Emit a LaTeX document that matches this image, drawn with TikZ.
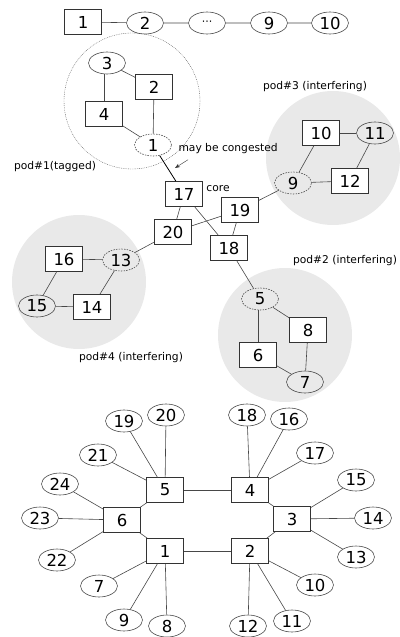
\documentclass[tikz,border=0pt]{standalone}
\usepackage{fontspec}
\setmainfont{DejaVu Sans}
\usetikzlibrary{shapes.geometric}
\usetikzlibrary{arrows.meta, positioning}
\definecolor{podGray}{RGB}{233, 233, 233}
\colorlet{edgeColor}{black!72}
\tikzset{
    switch/.style={draw=black!80, fill=white, rectangle, minimum width=37pt, minimum height=25pt, inner sep=0pt, line width=0.6pt, font=\fontsize{16.5}{16}\selectfont},
    host/.style={draw=black!70, ellipse, minimum width=37pt, minimum height=22pt, inner sep=0pt, line width=0.6pt, font=\fontsize{16.5}{16}\selectfont},
    entry/.style={host, dash pattern=on 1.5pt off 1.2pt},
    core/.style={switch, thick},
    link/.style={draw=edgeColor, line width=0.6pt},
    pod/.style={fill=podGray},
    podlabel/.style={font=\fontsize{10.7}{11}\selectfont}
}
\begin{document}
\begin{tikzpicture}[x=1pt, y=-1pt]
    \useasboundingbox (0,0) rectangle (399,637);

    % Draw the pod backgrounds
    \fill[pod] (333,158) circle (67);
    \fill[pod] (79,282) circle (67);
    \fill[pod] (285,335) circle (67);
    \draw[black!65, dash pattern=on 0.8pt off 1pt] (132,101) circle (68);

    % Top chain
    \node[switch] (t1) at (83,22) {1};
    \node[host] (t2) at (145,23) {2};
    \node[host] (tdots) at (207,23) {\fontsize{11}{11}\selectfont ···};
    \node[host] (t9) at (269,23) {9};
    \node[host] (t10) at (330,23) {10};
    \draw[link] (t1) -- (t2) -- (tdots) -- (t9) -- (t10);

    % pod#1
    \node[host] (a3) at (107,63) {3};
    \node[switch] (a2) at (154,87) {2};
    \node[switch] (a4) at (104,114) {4};
    \node[entry] (a1) at (153,145) {1};
    \draw[link] (a3) -- (a2);
    \draw[link] (a3.south -| a4.north) -- (a4.north);
    \draw[link] (a4) -- (a1);
    \draw[link] (a2) -- (a1);
    \node[podlabel] (lab1) at (55,167) {pod\#1(tagged)};

    % pod#3
    \node[switch] (c10) at (321,133) {10};
    \node[host] (c11) at (375,133) {11};
    \node[entry] (c9) at (293,183) {9};
    \node[switch] (c12) at (350,181) {12};
    \draw[link] (c10) -- (c11);
    \draw[link] (c10) -- (c9);
    \draw[link] (c11) -- (c12);
    \draw[link] (c9) -- (c12);
    \node[podlabel] (lab3) at (315,87) {pod\#3 (interfering)};

    % Core switches
    \node[core] (k17) at (184,194) {17};
    \node[core] (k19) at (240,210) {19};
    \node[core] (k20) at (173,232) {20};
    \node[core] (k18) at (229,248) {18};
    \node[podlabel, anchor=west] (lcore) at (k17.east) [yshift=5pt] {core};
    \draw[black, thick] (a1) -- (k17);
    \draw[link] (k17) -- (k20);
    \draw[link] (k17) -- (k18);
    \draw[link] (k19) -- (k20);
    \draw[link] (k19) -- (k18);
    \draw[link] (k19) -- (c9);

    % Congestion note
    \node[podlabel, anchor=west] (cong) at (175,149) {may be congested};
    \coordinate (hit) at (175,168);
    \draw[black!80, -{Stealth[length=5pt]}] (cong.south west) ++(13pt,-2pt) -- (hit);

    % pod#4
    \node[switch] (d16) at (64,259) {16};
    \node[entry] (d13) at (121,260) {13};
    \node[host] (d15) at (37,306) {15};
    \node[switch] (d14) at (92,307) {14};
    \draw[link] (d16) -- (d13);
    \draw[link] (d16) -- (d15);
    \draw[link] (d13) -- (d14);
    \draw[link] (d15) -- (d14);
    \draw[link] (k20) -- (d13);
    \node[podlabel] (lab4) at (131,358) {pod\#4 (interfering)};

    % pod#2
    \node[entry] (b5) at (260,299) {5};
    \node[switch] (b8) at (308,330) {8};
    \node[switch] (b6) at (258,355) {6};
    \node[host] (b7) at (305,382) {7};
    \draw[link] (b5.south -| b6.north) -- (b6.north);
    \draw[link] (b5) -- (b8);
    \draw[link] (b8) -- (b7);
    \draw[link] (b6) -- (b7);
    \draw[link] (k18) -- (b5);
    \node[podlabel] (lab2) at (345,261) {pod\#2 (interfering)};

    % Bottom ring of switches
    \node[switch] (s5) at (165,490) {5};
    \node[switch] (s4) at (250,490) {4};
    \node[switch] (s6) at (122,520) {6};
    \node[switch] (s3) at (292,519) {3};
    \node[switch] (s1) at (165,551) {1};
    \node[switch] (s2) at (250,551) {2};
    \draw[link] (s5) -- (s4);
    \draw[link] (s1) -- (s2);
    \draw[link] (s5) -- (s6) -- (s1);
    \draw[link] (s4) -- (s3) -- (s2);

    % Hosts around the ring
    \foreach \n/\x/\y in {19/124/421, 20/166/415, 18/247/415, 16/289/419,
                          21/98/455, 17/315/453, 24/60/484, 15/356/480,
                          23/40/518, 14/373/518, 22/57/560, 13/356/557,
                          7/99/586, 10/315/585, 9/124/620, 8/167/626,
                          12/248/626, 11/292/621}
        \node[host] (h\n) at (\x,\y) {\n};
    \foreach \s/\h in {s5/h19, s5/h20, s5/h21, s6/h24, s6/h23, s6/h22,
                       s1/h7, s1/h9, s1/h8, s2/h12, s2/h11, s2/h10,
                       s3/h13, s3/h14, s3/h15, s4/h17, s4/h16, s4/h18}
        \draw[link] (\s) -- (\h);
\end{tikzpicture}
\end{document}
